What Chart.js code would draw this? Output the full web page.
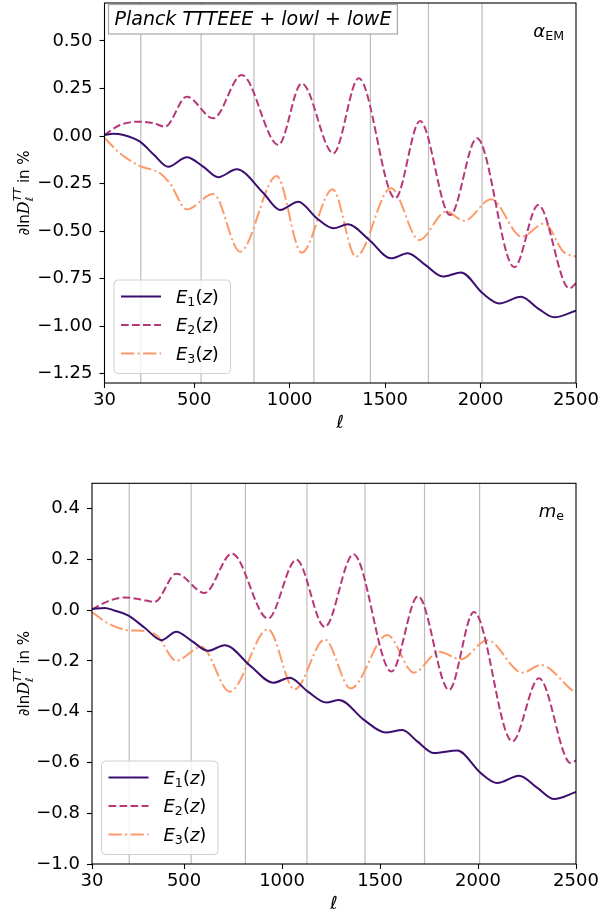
<!DOCTYPE html>
<html>
<head>
<meta charset="utf-8">
<script src="https://cdn.jsdelivr.net/npm/chart.js@4.4.1/dist/chart.umd.min.js"></script>
<style>
body { margin: 0; background: #fff; }
#wrap { position: relative; width: 601px; height: 916px; }
canvas { position: absolute; left: 0; }
#alfa { top: 0; }
#massa { top: 458px; }
</style>
</head>
<body>
<div id="wrap">
<canvas id="alfa" width="601" height="458"></canvas>
<canvas id="massa" width="601" height="458"></canvas>
</div>
<script>
// eixo x (multipolos)
const xTicks = [30, 500, 1000, 1500, 2000, 2500]
const picosL = [220, 536, 813, 1127, 1423, 1727, 2008]
const rotulos = ['E1', 'E2', 'E3']

// painel alpha_EM
const yTicksAlfa = [-1.25, -1.0, -0.75, -0.5, -0.25, 0, 0.25, 0.5]
const ellAlfaE1 = [30, 76, 130, 216, 290, 364, 461, 545, 626, 722, 862, 949, 1045, 1142, 1229, 1304, 1417, 1531, 1618, 1712, 1802, 1898, 2011, 2098, 2212, 2300, 2386, 2500]
const alfaE1 = [0.005, 0.012, 0.005, -0.03, -0.1, -0.162, -0.112, -0.16, -0.217, -0.175, -0.30, -0.389, -0.346, -0.433, -0.486, -0.465, -0.547, -0.644, -0.617, -0.68, -0.74, -0.718, -0.828, -0.881, -0.846, -0.907, -0.954, -0.919]
const ellAlfaE2 = [30, 111, 207, 284, 347, 461, 600, 749, 941, 1063, 1229, 1362, 1553, 1683, 1841, 1981, 2177, 2302, 2465, 2500]
const alfaE2 = [0.005, 0.058, 0.075, 0.068, 0.049, 0.207, 0.093, 0.321, -0.047, 0.277, -0.091, 0.304, -0.328, 0.079, -0.416, -0.012, -0.691, -0.363, -0.802, -0.775]
const ellAlfaE3 = [30, 111, 216, 321, 373, 461, 600, 740, 932, 1063, 1225, 1347, 1531, 1679, 1819, 1915, 2055, 2216, 2334, 2434, 2500]
const alfaE3 = [-0.01, -0.091, -0.158, -0.196, -0.249, -0.386, -0.305, -0.609, -0.211, -0.614, -0.28, -0.635, -0.275, -0.547, -0.398, -0.446, -0.333, -0.53, -0.46, -0.609, -0.635]

// painel m_e
const yTicksMassa = [-1.0, -0.8, -0.6, -0.4, -0.2, 0, 0.2, 0.4]
const ellMassaE1 = [30, 95, 140, 214, 300, 384, 460, 540, 622, 707, 843, 954, 1039, 1132, 1226, 1291, 1418, 1529, 1614, 1690, 1775, 1894, 2014, 2098, 2209, 2303, 2388, 2500]
const massaE1 = [0.005, 0.009, 0.0, -0.02, -0.07, -0.118, -0.085, -0.122, -0.16, -0.138, -0.223, -0.286, -0.266, -0.321, -0.364, -0.354, -0.432, -0.482, -0.472, -0.517, -0.563, -0.553, -0.642, -0.681, -0.652, -0.70, -0.744, -0.716]
const ellMassaE2 = [30, 110, 197, 280, 350, 460, 605, 744, 928, 1073, 1218, 1364, 1558, 1694, 1852, 1979, 2175, 2311, 2473, 2500]
const massaE2 = [0.003, 0.035, 0.05, 0.042, 0.033, 0.144, 0.068, 0.223, -0.033, 0.199, -0.066, 0.22, -0.242, 0.055, -0.314, -0.007, -0.517, -0.268, -0.602, -0.592]
const ellMassaE3 = [30, 112, 214, 316, 367, 460, 588, 733, 928, 1064, 1218, 1350, 1537, 1673, 1801, 1912, 2047, 2226, 2320, 2490, 2500]
const massaE3 = [-0.007, -0.052, -0.079, -0.083, -0.105, -0.199, -0.144, -0.321, -0.075, -0.312, -0.115, -0.308, -0.098, -0.246, -0.164, -0.193, -0.118, -0.246, -0.216, -0.321, -0.325]

const cores = ['#3b0f70', '#b73779', '#fd9a6a']
const tracos = [[], [7.7, 3.3], [13.3, 3.3, 2.1, 3.3]]
const fonte = "'DejaVu Sans'"

function formata(v, dec) {
    let s = Math.abs(v).toFixed(dec)
    return v < -1e-9 ? '\u2212' + s : s
}

// desenha pedacos de texto lado a lado (p/ sub e sobrescritos)
function escrevePartes(ctx, partes, x, y) {
    let cx = x
    partes.forEach(p => {
        ctx.font = p.font
        ctx.fillText(p.t, cx, y + (p.dy || 0))
        if (!p.stack) cx += ctx.measureText(p.t).width
    })
    return cx
}

function larguraPartes(ctx, partes) {
    let w = 0
    partes.forEach(p => {
        ctx.font = p.font
        if (!p.stack) w += ctx.measureText(p.t).width
    })
    return w
}

const decoracao = {
    id: 'decoracao',
    beforeDatasetsDraw(chart, args, opts) {
        const ctx = chart.ctx
        const area = chart.chartArea
        const x = chart.scales.x
        ctx.save()
        ctx.strokeStyle = '#bcbcbc'
        ctx.lineWidth = 1.2
        picosL.forEach(l => {
            const px = x.getPixelForValue(l)
            ctx.beginPath()
            ctx.moveTo(px, area.top)
            ctx.lineTo(px, area.bottom)
            ctx.stroke()
        })
        ctx.restore()
    },
    afterDatasetsDraw(chart, args, opts) {
        const ctx = chart.ctx
        const area = chart.chartArea
        ctx.save()
        // moldura
        ctx.strokeStyle = '#000'
        ctx.lineWidth = 1.1
        ctx.strokeRect(area.left, area.top, area.right - area.left, area.bottom - area.top)

        ctx.fillStyle = '#000'
        ctx.textBaseline = 'alphabetic'

        // titulo do eixo y
        const ylab = [
            { t: '\u2202ln', font: '15px ' + fonte },
            { t: 'D', font: 'italic 16px "DejaVu Serif"' },
            { t: '\u2113', font: 'italic 11px ' + fonte, dy: 4, stack: true },
            { t: 'TT', font: 'italic 11px ' + fonte, dy: -8 },
            { t: ' in %', font: '15px ' + fonte }
        ]
        ctx.save()
        ctx.translate(29, (area.top + area.bottom) / 2)
        ctx.rotate(-Math.PI / 2)
        const wy = larguraPartes(ctx, ylab)
        escrevePartes(ctx, ylab, -wy / 2, 0)
        ctx.restore()

        // titulo do eixo x
        ctx.font = 'italic 18px ' + fonte
        ctx.textAlign = 'center'
        ctx.textBaseline = 'middle'
        ctx.fillText('\u2113', (area.left + area.right) / 2, area.bottom + 40)
        ctx.textAlign = 'left'
        ctx.textBaseline = 'alphabetic'

        // parametro no canto
        const wp = larguraPartes(ctx, opts.parametro)
        escrevePartes(ctx, opts.parametro, area.right - 12 - wp, area.top + opts.paramY)

        // caixa Planck
        if (opts.caixa) {
            ctx.font = 'italic 19px ' + fonte
            const txt = 'Planck TTTEEE + lowl + lowE'
            const w = ctx.measureText(txt).width
            ctx.fillStyle = '#fff'
            ctx.fillRect(area.left + 4, area.top + 1.5, w + 12, 29.5)
            ctx.strokeStyle = '#a8a8a8'
            ctx.lineWidth = 1.2
            ctx.strokeRect(area.left + 4, area.top + 1.5, w + 12, 29.5)
            ctx.fillStyle = '#000'
            ctx.fillText(txt, area.left + 10, area.top + 22)
        }

        // legenda
        const bx = area.left + 9.5, bh = 93.5, bw = 116.5
        const by = area.bottom - 9.5 - bh
        ctx.beginPath()
        ctx.roundRect(bx, by, bw, bh, 4)
        ctx.fillStyle = 'rgba(255,255,255,0.8)'
        ctx.fill()
        ctx.strokeStyle = '#d0d0d0'
        ctx.lineWidth = 1
        ctx.stroke()
        const linhas = [16.5, 45, 73.5]
        chart.data.datasets.forEach((ds, i) => {
            const ly = by + linhas[i]
            ctx.strokeStyle = ds.borderColor
            ctx.lineWidth = ds.borderWidth
            ctx.setLineDash(ds.borderDash)
            ctx.beginPath()
            ctx.moveTo(bx + 7, ly)
            ctx.lineTo(bx + 47, ly)
            ctx.stroke()
            ctx.setLineDash([])
            ctx.fillStyle = '#000'
            escrevePartes(ctx, [
                { t: 'E', font: 'italic 18px ' + fonte },
                { t: String(i + 1), font: '12.6px ' + fonte, dy: 3 },
                { t: '(', font: '18px ' + fonte },
                { t: 'z', font: 'italic 18px ' + fonte },
                { t: ')', font: '18px ' + fonte }
            ], bx + 62, ly + 6)
        })
        ctx.restore()
    }
}

function criaGrafico(canvas, cfg) {
    return new Chart(canvas, {
        type: 'line',
        data: {
            datasets: cfg.series.map((s, i) => ({
                label: rotulos[i],
                data: s.ell.map((l, k) => ({ x: l, y: s.val[k] })),
                borderColor: cores[i],
                borderDash: tracos[i],
                borderWidth: 2,
                pointRadius: 0,
                cubicInterpolationMode: 'monotone',
                fill: false
            }))
        },
        options: {
            animation: false,
            responsive: false,
            devicePixelRatio: 1,
            layout: { padding: { top: cfg.padTop, right: 25, left: 0, bottom: 0 } },
            plugins: {
                legend: { display: false },
                tooltip: { enabled: false },
                decoracao: { parametro: cfg.parametro, paramY: cfg.paramY, caixa: cfg.caixa }
            },
            scales: {
                x: {
                    type: 'linear', min: 30, max: 2500,
                    afterBuildTicks: ax => { ax.ticks = xTicks.map(v => ({ value: v })) },
                    afterFit: ax => {
                        ax.height = cfg.xAxisH
                        ax.paddingLeft = 0
                        ax.paddingRight = 0
                    },
                    grid: { drawOnChartArea: false, drawTicks: true, tickLength: 5, tickColor: '#000', tickWidth: 1.1 },
                    border: { display: false },
                    ticks: {
                        color: '#000', font: { family: 'DejaVu Sans', size: 18 }, padding: 2,
                        maxRotation: 0, autoSkip: false, callback: v => String(v)
                    }
                },
                y: {
                    type: 'linear', min: cfg.yMin, max: cfg.yMax,
                    afterBuildTicks: ax => { ax.ticks = cfg.yTicks.map(v => ({ value: v })) },
                    afterFit: ax => {
                        ax.width = cfg.yAxisW
                        ax.paddingTop = 0
                        ax.paddingBottom = 0
                    },
                    grid: { drawOnChartArea: false, drawTicks: true, tickLength: 5, tickColor: '#000', tickWidth: 1.1 },
                    border: { display: false },
                    ticks: {
                        color: '#000', font: { family: 'DejaVu Sans', size: 18 }, padding: 7,
                        autoSkip: false, callback: v => formata(v, cfg.dec)
                    }
                }
            }
        },
        plugins: [decoracao]
    })
}

criaGrafico(document.getElementById('alfa'), {
    series: [
        { ell: ellAlfaE1, val: alfaE1 },
        { ell: ellAlfaE2, val: alfaE2 },
        { ell: ellAlfaE3, val: alfaE3 }
    ],
    yMin: -1.3, yMax: 0.7, yTicks: yTicksAlfa, dec: 2,
    padTop: 3, xAxisH: 75, yAxisW: 104.5,
    caixa: true, paramY: 34,
    parametro: [
        { t: '\u03b1', font: 'italic 18px ' + fonte },
        { t: 'EM', font: '12.6px ' + fonte, dy: 3 }
    ]
})

criaGrafico(document.getElementById('massa'), {
    series: [
        { ell: ellMassaE1, val: massaE1 },
        { ell: ellMassaE2, val: massaE2 },
        { ell: ellMassaE3, val: massaE3 }
    ],
    yMin: -1.0, yMax: 0.5, yTicks: yTicksMassa, dec: 1,
    padTop: 25.3, xAxisH: 52, yAxisW: 92,
    caixa: false, paramY: 34,
    parametro: [
        { t: 'm', font: 'italic 18px ' + fonte },
        { t: 'e', font: '12.6px ' + fonte, dy: 3 }
    ]
})
</script>
</body>
</html>
